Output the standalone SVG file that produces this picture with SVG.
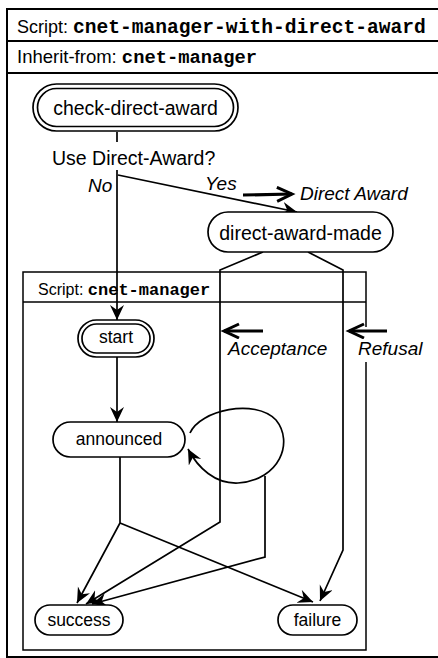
<svg xmlns="http://www.w3.org/2000/svg" width="438" height="658" viewBox="0 0 438 658">
<style>
  .frame{fill:none;stroke:#000;stroke-width:2}
  .thin{fill:none;stroke:#000;stroke-width:1.5}
  .node{fill:#fff;stroke:#000;stroke-width:1.7}
  .conn{fill:none;stroke:#000;stroke-width:1.7}
  .thick{fill:none;stroke:#000;stroke-width:3.2}
  .sans{font-family:"Liberation Sans",Arial,sans-serif;fill:#000}
  .mono{font-family:"Liberation Mono","Courier New",monospace;font-weight:bold;fill:#000}
  .lbl{font-family:"Liberation Sans",Arial,sans-serif;font-size:19.5px;fill:#000}
  .it{font-family:"Liberation Sans",Arial,sans-serif;font-style:italic;font-size:19px;fill:#000}
  .in{font-family:"Liberation Sans",Arial,sans-serif;font-size:17.5px;fill:#000}
</style>
<defs>
  <marker id="arr" markerUnits="userSpaceOnUse" markerWidth="17" markerHeight="15" refX="15" refY="7" orient="auto">
    <path d="M0,0 L15,7 L0,14 L5,7 z" fill="#000"/>
  </marker>
  <marker id="harr" markerUnits="userSpaceOnUse" markerWidth="20" markerHeight="18" refX="16" refY="8" orient="auto">
    <path d="M1,1 L16,8 L1,15" fill="none" stroke="#000" stroke-width="3"/>
  </marker>
</defs>

<!-- outer script frame -->
<g id="outer-frame">
  <rect class="frame" x="7" y="9" width="440" height="648"/>
  <line class="frame" x1="7" y1="41" x2="438" y2="41"/>
  <line class="frame" x1="7" y1="73" x2="438" y2="73"/>
  <text class="sans" x="17" y="33" font-size="18">Script: <tspan class="mono" font-size="19.6">cnet-manager-with-direct-award</tspan></text>
  <text class="sans" x="17" y="63" font-size="18.5">Inherit-from: <tspan class="mono" font-size="18.8">cnet-manager</tspan></text>
</g>

<!-- inner script frame -->
<g id="inner-frame">
  <rect class="thin" x="23" y="272" width="343" height="378"/>
  <line class="thin" x1="23" y1="302" x2="366" y2="302"/>
  <text class="sans" x="38" y="295" font-size="16">Script: <tspan class="mono" font-size="17">cnet-manager</tspan></text>
  <rect x="352" y="327" width="80" height="35" fill="#fff"/>
</g>

<!-- connectors -->
<g id="connectors">
  <line class="conn" x1="117" y1="132" x2="117" y2="142"/>
  <line class="conn" x1="117" y1="170" x2="117" y2="320" marker-end="url(#arr)"/>
  <line class="conn" x1="118" y1="175" x2="297" y2="212" marker-end="url(#arr)"/>
  <line class="conn" x1="117" y1="357" x2="117" y2="422" marker-end="url(#arr)"/>
  <path class="conn" d="M190,433 C200,410 255,398 276,420 C294,442 280,480 238,483 C215,484 198,468 188,449" marker-end="url(#arr)"/>
  <path class="conn" d="M120,457 L120,523 L77,603" marker-end="url(#arr)"/>
  <path class="conn" d="M120,523 L313,602" marker-end="url(#arr)"/>
  <path class="conn" d="M263,252 L220,270 L220,522 L86,604" marker-end="url(#arr)"/>
  <path class="conn" d="M265,476 L265,557 L92,604" marker-end="url(#arr)"/>
  <path class="conn" d="M308,252 L343,270 L343,550 L320,601" marker-end="url(#arr)"/>
</g>

<!-- labels -->
<g id="labels">
  <text class="lbl" x="52" y="165">Use Direct-Award?</text>
  <text class="it" x="88" y="192">No</text>
  <text class="it" x="205" y="190">Yes</text>
  <line class="thick" x1="243" y1="195" x2="292" y2="194" marker-end="url(#harr)"/>
  <text class="it" x="300" y="200">Direct Award</text>
  <line class="thick" x1="263" y1="331" x2="224" y2="331" marker-end="url(#harr)"/>
  <text class="it" x="228" y="355">Acceptance</text>
  <line class="thick" x1="387" y1="331" x2="349" y2="331" marker-end="url(#harr)"/>
  <text class="it" x="358" y="355">Refusal</text>
</g>

<!-- nodes -->
<g id="check-direct-award">
  <rect class="node" x="33" y="84" width="205" height="47" rx="23.5"/>
  <rect class="node" x="37.5" y="88.5" width="196" height="38" rx="19"/>
  <text class="lbl" x="135.5" y="115" text-anchor="middle">check-direct-award</text>
</g>
<g id="direct-award-made">
  <rect class="node" x="208" y="212" width="185" height="40" rx="20"/>
  <text class="lbl" x="300.5" y="240" text-anchor="middle">direct-award-made</text>
</g>
<g id="start">
  <rect class="node" x="78" y="320" width="76" height="37" rx="18.5"/>
  <rect class="node" x="82" y="324" width="68" height="29" rx="14.5"/>
  <text class="in" x="116" y="343" text-anchor="middle">start</text>
</g>
<g id="announced">
  <rect class="node" x="53" y="422" width="132" height="35" rx="17.5"/>
  <text class="in" x="119" y="445" text-anchor="middle">announced</text>
</g>
<g id="success">
  <rect class="node" x="35" y="605" width="88" height="30" rx="15"/>
  <text class="in" x="79" y="626" text-anchor="middle">success</text>
</g>
<g id="failure">
  <rect class="node" x="278" y="605" width="79" height="30" rx="15"/>
  <text class="in" x="317.5" y="626" text-anchor="middle">failure</text>
</g>
</svg>
